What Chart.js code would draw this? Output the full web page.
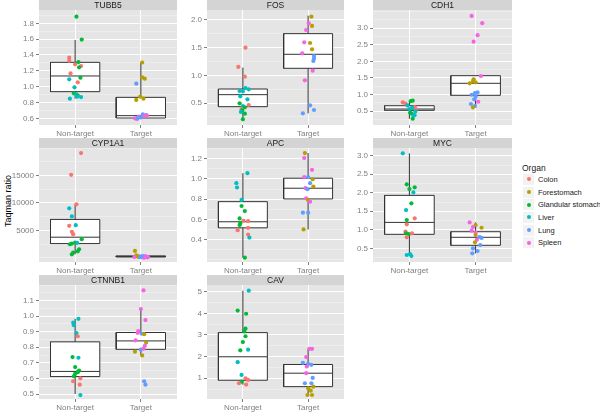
<!DOCTYPE html>
<html>
<head>
<meta charset="utf-8">
<script src="https://cdn.jsdelivr.net/npm/chart.js@4.4.1/dist/chart.umd.min.js"></script>
<style>
  body { margin:0; width:600px; height:412px; background:#fff; position:relative; overflow:hidden; font-family:"Liberation Sans", Arial, sans-serif; }
  canvas { position:absolute; }
  #ytitle { position:absolute; left:8px; top:201px; transform:translate(-50%,-50%) rotate(-90deg); font-size:9px; white-space:nowrap; color:#000; }
  #legend { position:absolute; left:522px; top:163px; font-size:7.5px; color:#1a1a1a; white-space:nowrap; }
  #legend .title { font-size:8.5px; height:10px; line-height:10px; }
  #legend .item { height:12.7px; display:flex; align-items:center; }
  #legend .key { width:11px; height:11px; background:#f2f2f2; position:relative; margin-left:1px; margin-right:4px; flex:none; }
  #legend .dot { width:4px; height:4px; border-radius:50%; position:absolute; left:3.5px; top:3.5px; }
</style>
</head>
<body>
<div id="ytitle">Taqman ratio</div>
<div id="legend"></div>
<script>
// categories
const groups = ["Non-target", "Target"];
const organs = ["Colon", "Forestomach", "Glandular stomach", "Liver", "Lung", "Spleen"];
const genes = ["TUBB5", "FOS", "CDH1", "CYP1A1", "APC", "MYC", "CTNNB1", "CAV"];

// y limits and tick labels per gene
const tubb5Lim = [0.516, 1.968],  tubb5Ticks = ["0.6","0.8","1.0","1.2","1.4","1.6","1.8"];
const fosLim = [0.103, 2.18],     fosTicks = ["0.5","1.0","1.5","2.0"];
const cdh1Lim = [0.08, 3.55],     cdh1Ticks = ["0.5","1.0","1.5","2.0","2.5","3.0"];
const cypLim = [-730, 20000],     cypTicks = ["5000","10000","15000"];
const apcLim = [0.178, 1.306],    apcTicks = ["0.4","0.6","0.8","1.0","1.2"];
const mycLim = [0.13, 3.21],      mycTicks = ["0.5","1.0","1.5","2.0","2.5","3.0"];
const ctnLim = [0.468, 1.2],      ctnTicks = ["0.5","0.6","0.7","0.8","0.9","1.0","1.1"];
const cavLim = [0.04, 5.31],      cavTicks = ["1","2","3","4","5"];

// boxes: [whisker low, q1, median, q3, whisker high]
const tubb5BoxNT = [0.85, 0.937, 1.135, 1.307, 1.59],  tubb5BoxT = [0.59, 0.604, 0.634, 0.865, 1.307];
const fosBoxNT = [0.205, 0.434, 0.651, 0.753, 1.139],  fosBoxT = [0.313, 1.127, 1.380, 1.753, 2.078];
const cdh1BoxNT = [0.27, 0.523, 0.562, 0.662, 0.81],   cdh1BoxT = [0.61, 0.976, 1.338, 1.568, 1.568];
const cypBoxNT = [670, 2621, 3780, 7012, 9756],        cypBoxT = [20, 180, 280, 380, 560];
const apcBoxNT = [0.221, 0.516, 0.576, 0.775, 1.057],  apcBoxT = [0.500, 0.802, 0.908, 1.007, 1.256];
const mycBoxNT = [0.30, 0.878, 1.20, 1.93, 3.065],     mycBoxT = [0.365, 0.581, 0.797, 0.948, 1.20];
const ctnBoxNT = [0.50, 0.612, 0.645, 0.835, 0.983],   ctnBoxT = [0.748, 0.787, 0.841, 0.895, 1.046];
const cavBoxNT = [0.705, 0.907, 1.992, 3.109, 5.047],  cavBoxT = [0.225, 0.612, 1.233, 1.636, 2.36];

// samples: [organ index, jitter, value]
const tubb5NT = [[2,0.02,1.884],[2,0.10,1.594],[0,-0.09,1.366],[0,-0.09,1.328],[0,0.00,1.282],[2,0.05,1.311],[0,0.09,1.261],[2,0.06,1.244],[0,-0.07,1.168],[2,0.08,1.114],[3,-0.09,1.093],[0,0.04,1.055],[3,-0.01,0.992],[2,-0.02,0.916],[3,0.02,0.903],[2,0.04,0.886],[3,0.03,0.874],[3,0.09,0.869],[3,-0.08,0.848]];
const tubb5T = [[1,0.02,1.305],[1,0.02,1.118],[1,0.06,1.101],[4,-0.07,1.038],[1,-0.01,0.874],[1,-0.07,0.832],[1,0.04,0.848],[4,0.03,0.650],[4,0.08,0.642],[5,0.09,0.638],[5,0.05,0.629],[5,-0.03,0.621],[4,0.00,0.613],[5,-0.09,0.600],[5,-0.06,0.592],[4,-0.05,0.604]];
const fosNT = [[0,0.04,1.500],[0,-0.07,1.151],[0,0.03,0.976],[3,0.04,0.771],[3,0.09,0.747],[3,-0.05,0.717],[3,0.00,0.711],[3,-0.04,0.620],[3,0.07,0.566],[2,-0.05,0.494],[3,0.00,0.446],[0,0.09,0.464],[2,0.03,0.422],[0,-0.02,0.386],[2,-0.01,0.367],[3,-0.03,0.340],[2,0.03,0.307],[2,0.00,0.205]];
const fosT = [[1,0.05,2.060],[5,0.01,1.940],[1,0.06,1.892],[5,-0.03,1.819],[5,-0.06,1.596],[1,0.03,1.584],[1,0.06,1.470],[5,-0.09,1.398],[4,0.09,1.349],[4,0.09,1.301],[4,0.08,1.259],[5,0.07,1.084],[5,-0.05,0.910],[4,0.03,0.458],[4,0.09,0.374],[4,-0.08,0.313]];
const cdh1NT = [[0,-0.10,0.763],[0,-0.06,0.723],[2,0.02,0.803],[2,0.05,0.813],[3,-0.03,0.672],[0,0.08,0.622],[3,0.00,0.561],[3,0.04,0.602],[0,0.10,0.561],[2,0.01,0.450],[3,0.09,0.491],[3,0.08,0.380],[2,0.03,0.430],[2,0.05,0.269],[3,0.06,0.360]];
const cdh1T = [[5,-0.06,3.372],[5,0.10,3.151],[5,0.03,2.789],[5,-0.03,2.595],[5,0.08,1.559],[1,-0.03,1.459],[1,-0.04,1.399],[1,0.00,1.369],[1,-0.09,1.338],[4,-0.01,1.043],[4,0.03,1.063],[4,-0.06,0.993],[4,0.00,0.934],[4,-0.02,0.855],[5,0.04,0.782],[4,-0.07,0.713],[4,-0.01,0.653],[1,-0.04,0.613]];
const cypNT = [[0,0.09,19086],[0,-0.06,15122],[0,0.02,9756],[3,-0.09,9024],[3,-0.05,7560],[3,0.01,5975],[0,-0.09,5853],[0,-0.05,4755],[0,-0.03,4328],[2,0.10,3414],[2,0.00,2804],[2,-0.05,2621],[3,0.03,2743],[2,-0.08,2500],[2,0.06,1584],[2,0.04,1218],[2,-0.03,975],[2,-0.05,670]];
const cypT = [[1,-0.09,1280],[4,-0.05,365],[5,-0.03,183],[5,0.03,122],[5,0.08,244],[4,0.00,305],[1,-0.07,487],[5,0.05,60],[4,0.10,122],[5,-0.10,183],[1,-0.04,244],[4,0.04,365],[5,0.11,183],[5,0.07,300],[4,-0.01,150]];
const apcNT = [[3,0.07,1.057],[3,-0.10,0.958],[3,-0.09,0.915],[3,-0.02,0.792],[2,-0.02,0.732],[2,0.03,0.682],[2,-0.05,0.609],[0,0.01,0.586],[0,0.08,0.583],[2,-0.04,0.559],[2,-0.05,0.543],[0,0.08,0.516],[0,-0.08,0.493],[0,0.08,0.450],[3,0.10,0.420],[2,0.03,0.221]];
const apcT = [[1,-0.05,1.256],[5,-0.06,1.207],[5,0.06,1.090],[5,-0.06,1.017],[4,0.00,1.017],[1,0.07,0.997],[4,0.03,0.958],[1,0.08,0.924],[5,-0.04,0.908],[4,-0.01,0.898],[5,-0.03,0.808],[1,0.00,0.792],[5,0.03,0.775],[4,-0.08,0.666],[4,0.00,0.666],[1,-0.07,0.500]];
const mycNT = [[3,-0.10,3.065],[2,-0.04,2.228],[2,0.08,2.147],[2,0.00,2.100],[3,0.06,2.010],[2,0.03,1.715],[3,-0.05,1.534],[2,-0.04,1.264],[0,0.08,1.310],[0,-0.04,1.148],[0,-0.06,0.948],[2,-0.05,0.905],[2,-0.01,0.886],[0,0.04,0.905],[0,-0.04,0.797],[3,-0.04,0.319],[3,0.01,0.346],[3,0.03,0.292]];
const mycT = [[5,-0.09,1.200],[1,0.00,1.129],[5,-0.04,1.075],[1,0.09,1.056],[5,-0.06,0.975],[5,0.00,0.921],[1,0.00,0.859],[4,0.06,0.805],[4,0.09,0.780],[5,0.02,0.732],[1,-0.01,0.662],[4,0.07,0.589],[4,-0.04,0.500],[4,0.03,0.427],[4,-0.05,0.365]];
const ctnNT = [[3,0.05,0.983],[3,-0.03,0.958],[3,-0.02,0.942],[3,0.02,0.891],[0,0.04,0.871],[2,-0.04,0.737],[3,0.05,0.733],[2,0.00,0.673],[2,0.06,0.651],[2,0.04,0.640],[2,0.00,0.629],[2,-0.02,0.614],[0,0.08,0.601],[0,-0.03,0.582],[0,0.07,0.560],[3,0.08,0.493]];
const ctnT = [[5,0.04,1.165],[5,0.00,1.046],[5,0.07,0.975],[5,-0.04,0.904],[5,-0.05,0.893],[4,0.01,0.888],[1,0.05,0.884],[5,-0.08,0.845],[1,0.08,0.830],[5,0.06,0.809],[4,0.00,0.785],[5,0.04,0.791],[1,-0.09,0.772],[1,0.02,0.748],[4,0.05,0.582],[4,0.07,0.560]];
const cavNT = [[3,0.09,5.047],[2,-0.08,4.130],[2,0.05,3.980],[2,0.04,3.290],[2,0.02,3.170],[2,0.04,2.940],[2,0.00,2.670],[2,-0.04,2.290],[3,0.08,2.320],[3,-0.08,1.744],[3,-0.02,1.155],[0,0.04,1.000],[0,0.08,0.922],[2,-0.02,0.845],[0,-0.06,0.767],[0,0.05,0.705]];
const cavT = [[5,0.02,2.360],[5,0.06,2.360],[5,-0.03,1.977],[4,-0.08,1.713],[4,0.00,1.667],[4,0.05,1.620],[5,-0.02,1.543],[5,-0.03,1.233],[4,0.07,1.016],[4,-0.05,0.767],[4,0.05,0.767],[1,0.00,0.535],[1,0.08,0.612],[1,0.04,0.426],[1,-0.01,0.225],[1,0.06,0.225]];

const organColors = ["#F8766D", "#B79F00", "#00BA38", "#00BFC4", "#619CFF", "#F564E3"];

const panels = [
  { lim: tubb5Lim, ticks: tubb5Ticks, box: [tubb5BoxNT, tubb5BoxT], pts: [tubb5NT, tubb5T] },
  { lim: fosLim,   ticks: fosTicks,   box: [fosBoxNT, fosBoxT],     pts: [fosNT, fosT] },
  { lim: cdh1Lim,  ticks: cdh1Ticks,  box: [cdh1BoxNT, cdh1BoxT],   pts: [cdh1NT, cdh1T] },
  { lim: cypLim,   ticks: cypTicks,   box: [cypBoxNT, cypBoxT],     pts: [cypNT, cypT] },
  { lim: apcLim,   ticks: apcTicks,   box: [apcBoxNT, apcBoxT],     pts: [apcNT, apcT] },
  { lim: mycLim,   ticks: mycTicks,   box: [mycBoxNT, mycBoxT],     pts: [mycNT, mycT] },
  { lim: ctnLim,   ticks: ctnTicks,   box: [ctnBoxNT, ctnBoxT],     pts: [ctnNT, ctnT] },
  { lim: cavLim,   ticks: cavTicks,   box: [cavBoxNT, cavBoxT],     pts: [cavNT, cavT] }
];

// page layout (plot areas)
const colLeft = [39, 207, 373], colRight = [179, 346, 514];
const rowTop = [10, 148, 285], rowBottom = [125, 262, 399];
const AXIS_W = 34, STRIP_H = 10, XLAB_H = 14, BOX_HALF = 0.375;
const FONT = '"Liberation Sans", Arial, sans-serif';

Chart.defaults.font.family = FONT;

const stripPlugin = {
  id: 'strip',
  beforeDraw(chart, args, opts) {
    const { ctx, chartArea: a } = chart;
    ctx.save();
    ctx.fillStyle = '#E5E5E5';
    ctx.fillRect(a.left, a.top, a.right - a.left, a.bottom - a.top);
    ctx.fillStyle = '#D4D4D4';
    ctx.fillRect(a.left, a.top - STRIP_H, a.right - a.left, STRIP_H);
    ctx.fillStyle = '#1A1A1A';
    ctx.font = '8.5px ' + FONT;
    ctx.textAlign = 'center';
    ctx.textBaseline = 'middle';
    ctx.fillText(opts.label, (a.left + a.right) / 2, a.top - STRIP_H / 2 + 0.5);
    ctx.restore();
  }
};

function yTicks(lim, labels) {
  const vals = labels.map(Number);
  const half = (vals[1] - vals[0]) / 2;
  const out = [];
  let v = vals[0] - half * Math.floor((vals[0] - lim[0]) / half);
  for (; v <= lim[1] + 1e-9; v += half) {
    out.push({ value: +v.toFixed(6), isMajor: vals.some(m => Math.abs(m - v) < half / 10) });
  }
  return out;
}

function lineSet(data, extra) {
  return Object.assign({
    type: 'line', data: data, borderColor: '#333333', borderWidth: 1,
    pointRadius: 0, tension: 0, fill: false, order: 2
  }, extra || {});
}

function buildDatasets(p) {
  const sets = [];
  p.box.forEach((b, g) => {
    const cx = g + 1, h = BOX_HALF;
    const [lo, q1, med, q3, hi] = b;
    sets.push(lineSet([{x:cx,y:q3},{x:cx,y:hi}]));
    sets.push(lineSet([{x:cx,y:lo},{x:cx,y:q1}]));
    sets.push(lineSet([{x:cx-h,y:q1},{x:cx+h,y:q1},{x:cx+h,y:q3},{x:cx-h,y:q3},{x:cx-h,y:q1}],
      { fill: 'shape', backgroundColor: '#FFFFFF' }));
    sets.push(lineSet([{x:cx-h,y:med},{x:cx+h,y:med}], { order: 1 }));
  });
  p.pts.forEach((pts, g) => {
    sets.push({
      type: 'scatter',
      data: pts.map(s => ({ x: g + 1 + s[1], y: s[2] })),
      pointBackgroundColor: pts.map(s => organColors[s[0]]),
      pointBorderWidth: 0,
      pointRadius: 2.1,
      order: 0
    });
  });
  return sets;
}

panels.forEach((p, i) => {
  const r = Math.floor(i / 3), c = i % 3;
  const w = colRight[c] - colLeft[c] + AXIS_W + 2;
  const h = rowBottom[r] - rowTop[r] + STRIP_H + XLAB_H;
  const cv = document.createElement('canvas');
  cv.width = w; cv.height = h;
  cv.style.left = (colLeft[c] - AXIS_W) + 'px';
  cv.style.top = (rowTop[r] - STRIP_H) + 'px';
  document.body.appendChild(cv);

  const isMaj = ctx => ctx.tick && ctx.tick.isMajor;
  new Chart(cv.getContext('2d'), {
    type: 'scatter',
    data: { datasets: buildDatasets(p) },
    options: {
      responsive: false,
      animation: false,
      events: [],
      layout: { padding: { top: STRIP_H, right: 2, left: 0, bottom: 0 } },
      plugins: { legend: { display: false }, tooltip: { enabled: false }, strip: { label: genes[i] } },
      scales: {
        x: {
          type: 'linear', min: 0.45, max: 2.55,
          afterBuildTicks: s => { s.ticks = groups.map((g, k) => ({ value: k + 1 })); },
          afterFit: s => { s.height = XLAB_H; },
          ticks: { autoSkip: false, maxRotation: 0, padding: 1, color: '#7F7F7F', font: { size: 8 },
                   callback: v => groups[Math.round(v) - 1] },
          grid: { color: '#FFFFFF', lineWidth: 1, tickLength: 3, tickColor: '#7F7F7F' },
          border: { display: false }
        },
        y: {
          type: 'linear', min: p.lim[0], max: p.lim[1],
          afterBuildTicks: s => { s.ticks = yTicks(p.lim, p.ticks); },
          afterFit: s => { s.width = AXIS_W; },
          ticks: { autoSkip: false, padding: 2, color: '#7F7F7F', font: { size: 8 },
                   callback: (v, k, t) => t[k].isMajor ? p.ticks.find(l => Math.abs(Number(l) - v) < 1e-6 * Math.max(1, Math.abs(v))) : '' },
          grid: {
            color: ctx => isMaj(ctx) ? '#FFFFFF' : '#F2F2F2',
            lineWidth: ctx => isMaj(ctx) ? 1 : 0.6,
            tickLength: 3,
            tickColor: ctx => isMaj(ctx) ? '#7F7F7F' : 'rgba(0,0,0,0)'
          },
          border: { display: false }
        }
      }
    },
    plugins: [stripPlugin]
  });
});

// legend
const legend = document.getElementById('legend');
legend.innerHTML = '<div class="title">Organ</div>' + organs.map((o, k) =>
  '<div class="item"><span class="key"><span class="dot" style="background:' + organColors[k] + '"></span></span>' + o + '</div>'
).join('');
</script>
</body>
</html>
